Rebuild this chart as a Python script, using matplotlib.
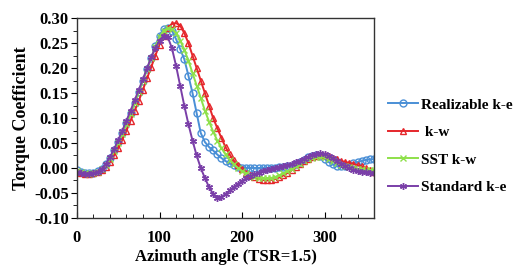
import matplotlib.pyplot as plt
from matplotlib.ticker import MultipleLocator
import numpy as np

# azimuth angle, every 5 degrees
angle = np.arange(0, 361, 5)

realizable_ke = [-0.005, -0.008, -0.010, -0.011, -0.010, -0.007, -0.002, 0.008, 0.020, 0.035,
                 0.052, 0.070, 0.090, 0.110, 0.130, 0.152, 0.175, 0.198, 0.220, 0.245,
                 0.265, 0.278, 0.280, 0.275, 0.258, 0.238, 0.218, 0.185, 0.150, 0.110,
                 0.070, 0.052, 0.042, 0.035, 0.027, 0.020, 0.014, 0.009, 0.005, 0.002,
                 0.000, 0.000, 0.000, 0.000, 0.000, 0.000, 0.000, 0.000, 0.000, 0.001,
                 0.002, 0.003, 0.004, 0.007, 0.011, 0.016, 0.021, 0.024, 0.025, 0.023,
                 0.018, 0.012, 0.007, 0.004, 0.003, 0.004, 0.006, 0.009, 0.012, 0.014,
                 0.016, 0.017, 0.018]

k_w = [-0.008, -0.010, -0.012, -0.012, -0.011, -0.009, -0.005, 0.002, 0.012, 0.025,
       0.040, 0.057, 0.075, 0.095, 0.115, 0.135, 0.157, 0.180, 0.202, 0.225,
       0.247, 0.265, 0.280, 0.288, 0.290, 0.285, 0.270, 0.250, 0.225, 0.200,
       0.175, 0.150, 0.125, 0.100, 0.080, 0.060, 0.042, 0.027, 0.015, 0.005,
       -0.003, -0.010, -0.015, -0.019, -0.022, -0.024, -0.025, -0.024, -0.022, -0.019,
       -0.015, -0.010, -0.005, 0.001, 0.007, 0.013, 0.018, 0.022, 0.024, 0.025,
       0.025, 0.023, 0.020, 0.017, 0.014, 0.012, 0.010, 0.008, 0.006, 0.003,
       0.000, -0.004, -0.008]

sst_kw = [-0.006, -0.009, -0.011, -0.012, -0.011, -0.008, -0.003, 0.006, 0.018, 0.033,
          0.050, 0.068, 0.088, 0.108, 0.130, 0.152, 0.175, 0.198, 0.220, 0.243,
          0.262, 0.275, 0.280, 0.278, 0.270, 0.255, 0.237, 0.215, 0.190, 0.165,
          0.140, 0.115, 0.093, 0.073, 0.055, 0.040, 0.027, 0.016, 0.007, 0.000,
          -0.006, -0.011, -0.015, -0.018, -0.020, -0.021, -0.021, -0.020, -0.018, -0.015,
          -0.011, -0.007, -0.002, 0.003, 0.008, 0.013, 0.017, 0.020, 0.022, 0.022,
          0.021, 0.018, 0.014, 0.010, 0.006, 0.003, 0.001, -0.001, -0.002, -0.003,
          -0.004, -0.005, -0.005]

standard_ke = [-0.008, -0.010, -0.012, -0.012, -0.011, -0.008, -0.002, 0.008, 0.022, 0.038,
               0.056, 0.075, 0.095, 0.115, 0.136, 0.157, 0.178, 0.200, 0.222, 0.240,
               0.255, 0.265, 0.262, 0.240, 0.205, 0.165, 0.125, 0.088, 0.055, 0.025,
               0.000, -0.020, -0.038, -0.052, -0.060, -0.058, -0.052, -0.045, -0.038, -0.032,
               -0.026, -0.021, -0.017, -0.013, -0.010, -0.007, -0.004, -0.002, 0.000, 0.002,
               0.004, 0.006, 0.008, 0.011, 0.014, 0.018, 0.022, 0.026, 0.028, 0.029,
               0.028, 0.024, 0.019, 0.013, 0.008, 0.003, -0.001, -0.004, -0.006, -0.008,
               -0.009, -0.010, -0.010]

plt.rcParams['font.family'] = 'Liberation Serif'
plt.rcParams['font.weight'] = 'bold'

fig = plt.figure(figsize=(5.22, 2.73), dpi=100)
ax = fig.add_axes([0.1475, 0.2015, 0.569, 0.7325])

# plotting the four turbulence models
ax.plot(angle, realizable_ke, color='#4a8fd6', lw=1.4, marker='o', ms=5,
        mfc='none', mew=1.0, label='Realizable k-e')
ax.plot(angle, k_w, color='#e5262b', lw=1.4, marker='^', ms=5,
        mfc='none', mew=1.0, label=' k-w')
ax.plot(angle, sst_kw, color='#8ee04a', lw=1.4, marker='x', ms=4,
        mew=1.0, label='SST k-w')
ax.plot(angle, standard_ke, color='#7a3fa8', lw=1.4, marker=(6, 2, 0), ms=5,
        mew=1.0, label='Standard k-e')

ax.set_xlim(0, 360)
ax.set_ylim(-0.10, 0.30)
ax.set_xticks([0, 100, 200, 300])
ax.xaxis.set_minor_locator(MultipleLocator(20))
ax.yaxis.set_major_locator(MultipleLocator(0.05))
ax.yaxis.set_minor_locator(MultipleLocator(0.025))
ax.yaxis.set_major_formatter(plt.FormatStrFormatter('%.2f'))

ax.tick_params(axis='x', which='both', direction='in', labelsize=12, pad=9)
ax.tick_params(axis='x', which='major', length=4)
ax.tick_params(axis='x', which='minor', length=3)
ax.tick_params(axis='y', which='both', direction='out', labelsize=12, pad=2)
ax.tick_params(axis='y', which='major', length=4)
ax.tick_params(axis='y', which='minor', length=3)
for lbl in ax.get_xticklabels() + ax.get_yticklabels():
    lbl.set_fontweight('bold')

for s in ax.spines.values():
    s.set_linewidth(1.0)
    s.set_color('#333333')

ax.set_xlabel('Azimuth angle (TSR=1.5)', fontsize=12, fontweight='bold', labelpad=1.5)
ax.set_ylabel('Torque Coefficient', fontsize=13, fontweight='bold', labelpad=3)

ax.legend(loc='center left', bbox_to_anchor=(1.0, 0.36), frameon=False,
          prop={'family': 'Liberation Serif', 'weight': 'bold', 'size': 11},
          handlelength=2.0, handletextpad=0.2, labelspacing=0.9)

fig.savefig('out.png', dpi=100)
